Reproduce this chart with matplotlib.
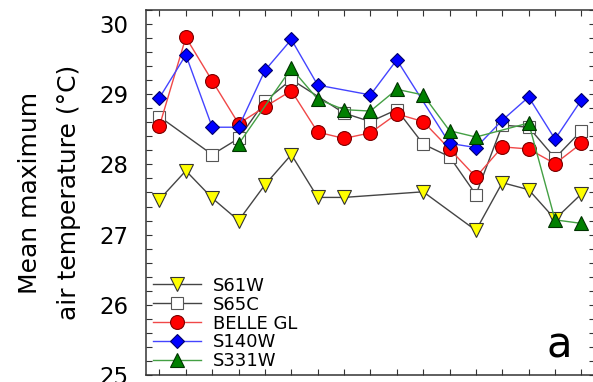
import numpy as np
import matplotlib
matplotlib.use("Agg")
import matplotlib.pyplot as plt
from matplotlib.ticker import MultipleLocator

# Mean maximum air temperature per station, one value per year slot (NaN = no data)
periods = list(range(1, 18))
s61w = [27.50, 27.91, 27.52, 27.20, 27.71, 28.14, 27.53, 27.53, np.nan, np.nan,
        27.61, np.nan, 27.06, 27.74, 27.64, 27.22, 27.58]
s65c = [28.68, np.nan, 28.14, 28.37, 28.90, 29.21, np.nan, 28.73, 28.61, 28.78,
        28.29, 28.11, 27.57, 28.56, 28.53, 28.09, 28.48]
belle_gl = [28.55, 29.81, 29.19, 28.58, 28.82, 29.05, 28.46, 28.37, 28.45, 28.72,
            28.61, 28.22, 27.82, 28.25, 28.22, 28.01, 28.30]
s140w = [28.95, 29.56, 28.53, 28.53, 29.34, 29.78, 29.13, np.nan, 28.99, 29.49,
         np.nan, 28.30, 28.24, 28.63, 28.96, 28.36, 28.92]
s331w = [np.nan, np.nan, np.nan, 28.29, np.nan, 29.37, 28.93, 28.78, 28.76, 29.07,
         28.99, 28.48, 28.39, np.nan, 28.59, 27.21, 27.16]
y_ticks = [25, 26, 27, 28, 29, 30]

plt.rcParams['font.family'] = ['DejaVu Sans']

fig = plt.figure(figsize=(5.93, 3.82), dpi=100)
ax = fig.add_axes([146.3 / 593, 7 / 382, 448.3 / 593, 365 / 382])

series = [
    ("S61W", s61w, dict(marker='v', ms=10.0, mfc='#ffff00', mec='#333333', color='#444444')),
    ("S65C", s65c, dict(marker='s', ms=8.8, mfc='white', mec='#555555', color='#444444')),
    ("BELLE GL", belle_gl, dict(marker='o', ms=10.0, mfc='#ff0000', mec='#7a0000', color='#f04848')),
    ("S140W", s140w, dict(marker='D', ms=7.3, mfc='#0000ff', mec='#00006a', color='#4444ff')),
    ("S331W", s331w, dict(marker='^', ms=10.0, mfc='#008000', mec='#003300', color='#44a044')),
]

x = np.array(periods, dtype=float)
for name, vals, style in series:
    v = np.array(vals, dtype=float)
    ok = ~np.isnan(v)
    ax.plot(x[ok], v[ok], lw=1.0, mew=0.8, label=name, **style)

ax.set_xlim(0.5, 17.5)
ax.set_ylim(25, 30.2)
ax.set_xticks(periods)
ax.set_xticklabels([])
ax.set_yticks(y_ticks)
ax.yaxis.set_minor_locator(MultipleLocator(0.2))
ax.tick_params(axis='both', which='both', direction='in', top=True, right=True,
               length=4, width=0.8, color='#333333')
ax.tick_params(axis='y', which='major', labelsize=16.5, pad=13)
for sp in ax.spines.values():
    sp.set_linewidth(1.1)
    sp.set_color('#333333')

ax.set_ylabel("Mean maximum\nair temperature (°C)", fontsize=18, labelpad=13,
              linespacing=1.8)

leg = ax.legend(loc='lower left', bbox_to_anchor=(6.7 / 448.3, 4.6 / 365),
                frameon=False, fontsize=13, handlelength=2.65, handletextpad=0.67,
                labelspacing=0.05, borderaxespad=0.0, borderpad=0.0)

ax.text(0.9206, 0.0466, "a", transform=ax.transAxes, fontsize=30,
        ha='center', va='baseline')

fig.savefig("out.png", dpi=100)
